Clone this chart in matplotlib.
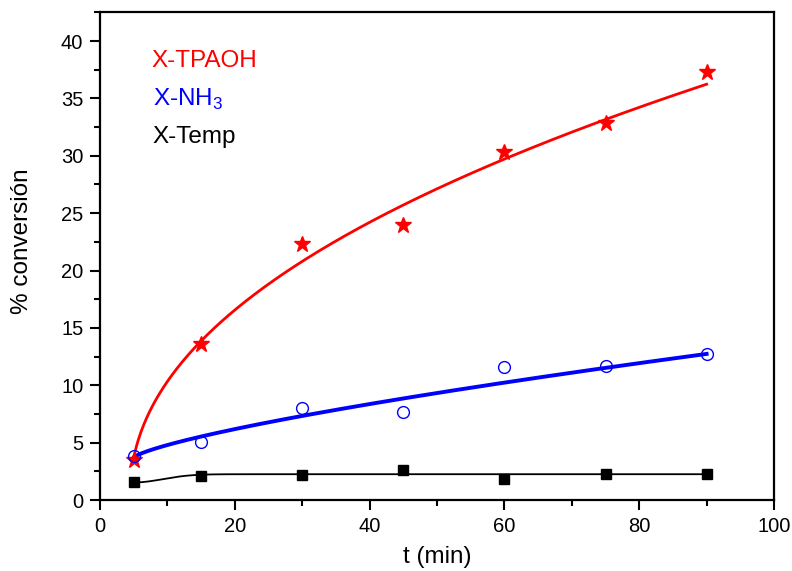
import numpy as np
import matplotlib
matplotlib.use("Agg")
import matplotlib.pyplot as plt
from matplotlib.ticker import MultipleLocator

plt.rcParams['font.family'] = ['Liberation Sans', 'DejaVu Sans']

# reaction time (min)
t = [5, 15, 30, 45, 60, 75, 90]
# conversion (%) for each treatment
x_tpaoh = [3.5, 13.6, 22.3, 24.0, 30.3, 32.9, 37.3]
x_nh3 = [3.8, 5.05, 8.0, 7.7, 11.6, 11.7, 12.7]
x_temp = [1.6, 2.1, 2.15, 2.65, 1.85, 2.3, 2.3]

# fitted trend for TPAOH: y = a*(t - c)**b
tpaoh_fit = (4.68, 4.4, 0.46)
# fitted trend for NH3: y = y0 + a*(t - t0)**b
nh3_fit = (3.7, 0.33, 0.745)
# fitted trend for Temp: y = ymax - d*exp(-((t - t0)/w)**2)
temp_fit = (2.25, 0.72, 6.0)

t0 = t[0]
tt = np.linspace(t0, t[-1], 400)
y_tp = tpaoh_fit[0] * (tt - tpaoh_fit[1]) ** tpaoh_fit[2]
y_nh = nh3_fit[0] + nh3_fit[1] * (tt - t0) ** nh3_fit[2]
y_te = temp_fit[0] - temp_fit[1] * np.exp(-((tt - t0) / temp_fit[2]) ** 2)

fig = plt.figure(figsize=(7.92, 5.71), dpi=100)
ax = fig.add_axes([0.1263, 0.1243, 0.851, 0.854])

ax.plot(tt, y_tp, color='#ff0000', lw=2.0)
ax.plot(tt, y_nh, color='#0000ff', lw=2.8)
ax.plot(tt, y_te, color='black', lw=1.3)

ax.plot(t, x_tpaoh, ls='none', marker='*', ms=12, color='#ff0000', mec='#ff0000')
ax.plot(t, x_nh3, ls='none', marker='o', ms=8.5, mfc='none', mec='#0000ff', mew=1.0)
ax.plot(t, x_temp, ls='none', marker='s', ms=7.5, color='black')

ax.set_xlim(0, 100)
ax.set_ylim(0, 42.5)
ax.xaxis.set_major_locator(MultipleLocator(20))
ax.xaxis.set_minor_locator(MultipleLocator(10))
ax.yaxis.set_major_locator(MultipleLocator(5))
ax.yaxis.set_minor_locator(MultipleLocator(2.5))
ax.tick_params(which='major', direction='out', length=7, width=1.5, labelsize=14.5, pad=5)
ax.tick_params(which='minor', direction='out', length=4, width=1.5)
for s in ax.spines.values():
    s.set_linewidth(1.6)

ax.set_xlabel('t (min)', fontsize=17.5)
ax.set_ylabel('% conversión', fontsize=17.5)
ax.xaxis.set_label_coords(0.5, -0.095)
ax.yaxis.set_label_coords(-0.099, 0.53)

ax.text(0.077, 0.900, 'X-TPAOH', transform=ax.transAxes, color='#ff0000',
        fontsize=17.5, va='center', ha='left')
ax.text(0.078, 0.822, r'X-NH$_\mathregular{3}$', transform=ax.transAxes, color='#0000ff',
        fontsize=17.5, va='center', ha='left')
ax.text(0.078, 0.744, 'X-Temp', transform=ax.transAxes, color='black',
        fontsize=17.5, va='center', ha='left')

fig.savefig('out.png', dpi=100)
